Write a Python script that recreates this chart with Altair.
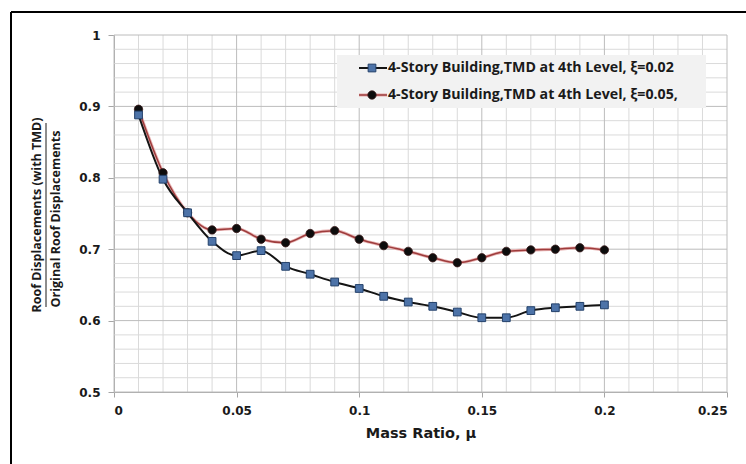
import altair as alt
import pandas as pd

# ---- data ----
mass_ratio = [0.01, 0.02, 0.03, 0.04, 0.05, 0.06, 0.07, 0.08, 0.09, 0.10,
              0.11, 0.12, 0.13, 0.14, 0.15, 0.16, 0.17, 0.18, 0.19, 0.20]
disp_xi002 = [0.888, 0.798, 0.751, 0.711, 0.691, 0.698, 0.676, 0.665, 0.654, 0.645,
              0.634, 0.626, 0.620, 0.612, 0.604, 0.604, 0.614, 0.618, 0.620, 0.622]
disp_xi005 = [0.896, 0.807, 0.751, 0.727, 0.729, 0.714, 0.709, 0.722, 0.726, 0.714,
              0.705, 0.697, 0.688, 0.681, 0.688, 0.697, 0.699, 0.700, 0.702, 0.699]
series_names = ["4-Story Building,TMD at 4th Level, ξ=0.02",
                "4-Story Building,TMD at 4th Level, ξ=0.05,"]
x_major = [0, 0.05, 0.1, 0.15, 0.2, 0.25]
y_major = [0.5, 0.6, 0.7, 0.8, 0.9, 1.0]
x_minor = [0.01, 0.02, 0.03, 0.04, 0.06, 0.07, 0.08, 0.09, 0.11, 0.12, 0.13, 0.14,
           0.16, 0.17, 0.18, 0.19, 0.21, 0.22, 0.23, 0.24]
y_minor = [0.52, 0.54, 0.56, 0.58, 0.62, 0.64, 0.66, 0.68, 0.72, 0.74, 0.76, 0.78,
           0.82, 0.84, 0.86, 0.88, 0.92, 0.94, 0.96, 0.98]
x_title = "Mass Ratio, μ"
y_title_top = "Roof Displacements (with TMD)"
y_title_bottom = "Original Roof Displacements"

FONT = "Open Sans"
TICKFONT = "DejaVu Sans"
W, H = 613, 357

xscale = alt.Scale(domain=[0, 0.25], nice=False, zero=False)
yscale = alt.Scale(domain=[0.5, 1.0], nice=False, zero=False)

xaxis = alt.Axis(values=x_major, format="~g", grid=False, title=x_title,
                 domainColor="#a6a6a6", tickColor="#a6a6a6", tickSize=5,
                 labelPadding=8, labelFont=TICKFONT, labelFontWeight="bold",
                 labelFontSize=12, labelColor="#1a1a1a", titleFont=TICKFONT,
                 titleFontWeight="bold", titleFontSize=14.5, titleColor="#1a1a1a",
                 titlePadding=10)
yaxis = alt.Axis(values=y_major, format="~g", grid=False, title=None,
                 domainColor="#a6a6a6", tickColor="#a6a6a6", tickSize=6,
                 labelPadding=8, labelFont=TICKFONT, labelFontWeight="bold",
                 labelFontSize=12, labelColor="#1a1a1a")

df1 = pd.DataFrame({"mu": mass_ratio, "ratio": disp_xi002})
df2 = pd.DataFrame({"mu": mass_ratio, "ratio": disp_xi005})

X = lambda: alt.X("mu:Q", scale=xscale, axis=xaxis)
Y = lambda: alt.Y("ratio:Q", scale=yscale, axis=yaxis)

vminor = alt.Chart(pd.DataFrame({"mu": x_minor})).mark_rule(
    color="#dadada", strokeWidth=1).encode(x=X())
hminor = alt.Chart(pd.DataFrame({"ratio": y_minor})).mark_rule(
    color="#dadada", strokeWidth=1).encode(y=Y())
vmajor = alt.Chart(pd.DataFrame({"mu": x_major})).mark_rule(
    color="#bcbcbc", strokeWidth=1).encode(x=X())
hmajor = alt.Chart(pd.DataFrame({"ratio": y_major})).mark_rule(
    color="#bcbcbc", strokeWidth=1).encode(y=Y())

line1 = alt.Chart(df1).mark_line(color="#141414", strokeWidth=2,
                                 interpolate="monotone").encode(x=X(), y=Y())
pts1 = alt.Chart(df1).mark_point(shape="square", filled=True, size=60,
                                 fill="#4d73a8", stroke="#23406a", strokeWidth=1,
                                 opacity=1).encode(x=X(), y=Y())
line2_halo = alt.Chart(df2).mark_line(color="#e8b4b4", strokeWidth=3.2,
                                      interpolate="monotone").encode(x=X(), y=Y())
line2 = alt.Chart(df2).mark_line(color="#9e3c3c", strokeWidth=1.5,
                                 interpolate="monotone").encode(x=X(), y=Y())
pts2 = alt.Chart(df2).mark_point(shape="circle", filled=True, size=70,
                                 fill="#0d0d0d", stroke="#3a1a1a", strokeWidth=0.8,
                                 opacity=1).encode(x=X(), y=Y())

# ---- legend (drawn by hand, Excel style) ----
one = pd.DataFrame({"a": [0]})
leg_bg = alt.Chart(one).mark_rect(fill="#f2f2f2").encode(
    x=alt.value(223), x2=alt.value(592), y=alt.value(20), y2=alt.value(73))
leg_l1 = alt.Chart(one).mark_rule(color="#141414", strokeWidth=2).encode(
    x=alt.value(245), x2=alt.value(273), y=alt.value(33))
leg_p1 = alt.Chart(one).mark_point(
    shape="square", filled=True, size=60, fill="#4d73a8", stroke="#23406a",
    strokeWidth=1, opacity=1).encode(x=alt.value(258), y=alt.value(33))
leg_l2h = alt.Chart(one).mark_rule(color="#e8b4b4", strokeWidth=3.2).encode(
    x=alt.value(245), x2=alt.value(273), y=alt.value(60))
leg_l2 = alt.Chart(one).mark_rule(color="#9e3c3c", strokeWidth=1.5).encode(
    x=alt.value(245), x2=alt.value(273), y=alt.value(60))
leg_p2 = alt.Chart(one).mark_point(
    shape="circle", filled=True, size=70, fill="#0d0d0d", stroke="#3a1a1a",
    strokeWidth=0.8, opacity=1).encode(x=alt.value(258), y=alt.value(60))
leg_t1 = alt.Chart(pd.DataFrame({"t": [series_names[0]]})).mark_text(
    align="left", baseline="middle", font=FONT, fontWeight="bold", fontSize=14.2,
    color="#1a1a1a").encode(text="t:N", x=alt.value(274), y=alt.value(33))
leg_t2 = alt.Chart(pd.DataFrame({"t": [series_names[1]]})).mark_text(
    align="left", baseline="middle", font=FONT, fontWeight="bold", fontSize=14.2,
    color="#1a1a1a").encode(text="t:N", x=alt.value(274), y=alt.value(60))

# ---- y title as a fraction ----
yt1 = alt.Chart(pd.DataFrame({"t": [y_title_top]})).mark_text(
    angle=270, align="center", baseline="middle", font=FONT, fontWeight="bold",
    fontSize=12.5, color="#1a1a1a").encode(text="t:N", x=alt.value(-77), y=alt.value(180))
yt2 = alt.Chart(pd.DataFrame({"t": [y_title_bottom]})).mark_text(
    angle=270, align="center", baseline="middle", font=FONT, fontWeight="bold",
    fontSize=12.5, color="#1a1a1a").encode(text="t:N", x=alt.value(-58), y=alt.value(184))
ybar = alt.Chart(one).mark_rule(color="#1a1a1a", strokeWidth=1).encode(
    x=alt.value(-68), y=alt.value(88), y2=alt.value(272))

# ---- outer frame ----
frame_left = alt.Chart(one).mark_rule(color="#000000", strokeWidth=2).encode(
    x=alt.value(-103), y=alt.value(-23), y2=alt.value(429))
frame_top = alt.Chart(one).mark_rule(color="#000000", strokeWidth=2).encode(
    x=alt.value(-103), x2=alt.value(632), y=alt.value(-23))

chart = alt.layer(
    vminor, hminor, vmajor, hmajor, leg_bg,
    line2_halo, line2, line1, pts2, pts1,
    leg_l1, leg_p1, leg_l2h, leg_l2, leg_p2, leg_t1, leg_t2,
    yt1, yt2, ybar, frame_left, frame_top
).properties(
    width=W, height=H,
    autosize=alt.AutoSizeParams(type="none"),
    padding={"left": 114, "top": 35, "right": 19, "bottom": 72},
    background="white"
).configure_view(stroke=None)

chart.save("out.html", embed_options={"renderer": "svg", "actions": False})
